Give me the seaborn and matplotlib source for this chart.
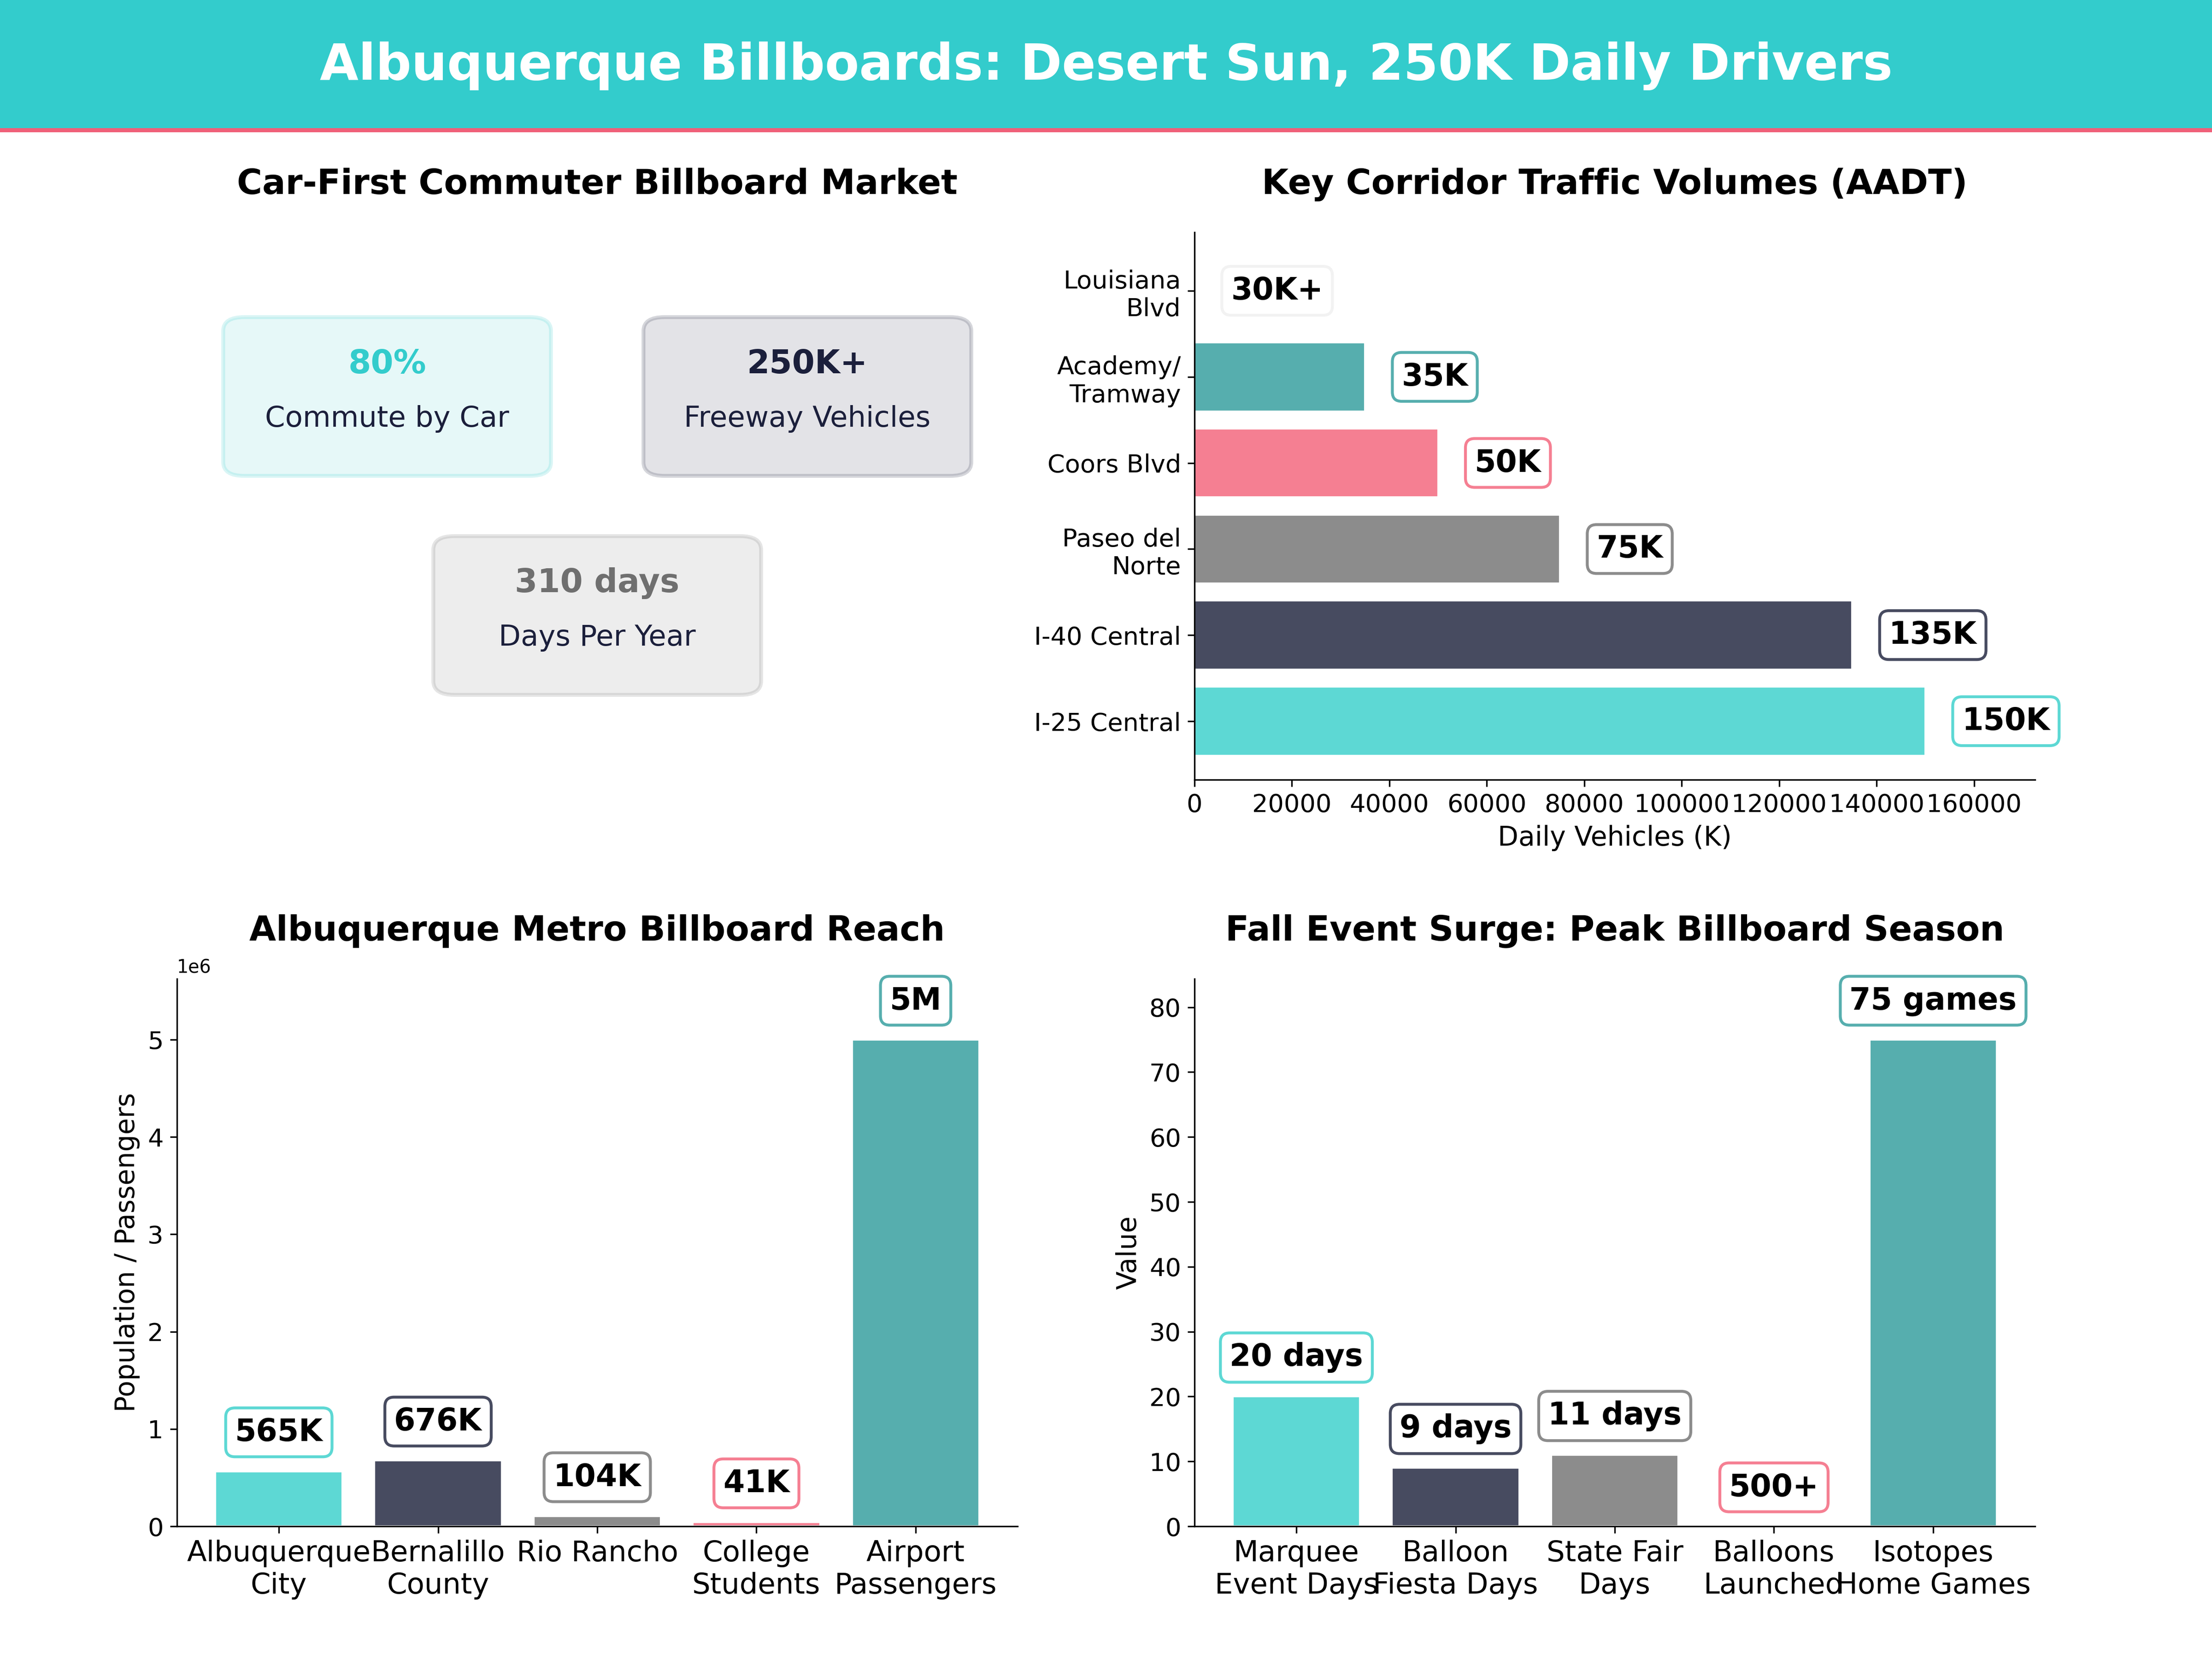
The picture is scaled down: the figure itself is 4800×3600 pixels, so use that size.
import matplotlib
matplotlib.use("Agg")
import matplotlib.pyplot as plt
import seaborn as sns
import pandas as pd
from matplotlib.patches import FancyBboxPatch, Rectangle

# ---------------- data ----------------
HEADER_TITLE = "Albuquerque Billboards: Desert Sun, 250K Daily Drivers"

kpi_values = ["80%", "250K+", "310 days"]
kpi_labels = ["Commute by Car", "Freeway Vehicles", "Days Per Year"]

corridors = ["I-25 Central", "I-40 Central", "Paseo del\nNorte", "Coors Blvd",
             "Academy/\nTramway", "Louisiana\nBlvd"]
corridor_aadt = [150000, 135000, 75000, 50000, 35000, 0]
corridor_labels = ["150K", "135K", "75K", "50K", "35K", "30K+"]

reach_cats = ["Albuquerque\nCity", "Bernalillo\nCounty", "Rio Rancho",
              "College\nStudents", "Airport\nPassengers"]
reach_vals = [565000, 676000, 104000, 41000, 5000000]
reach_labels = ["565K", "676K", "104K", "41K", "5M"]

event_cats = ["Marquee\nEvent Days", "Balloon\nFiesta Days", "State Fair\nDays",
              "Balloons\nLaunched", "Isotopes\nHome Games"]
event_vals = [20, 9, 11, 0, 75]
event_labels = ["20 days", "9 days", "11 days", "500+", "75 games"]

# ---------------- style ----------------
sns.set_style("white")
plt.rcParams.update({
    "font.family": ["DejaVu Sans"],
    "axes.edgecolor": "black",
    "axes.linewidth": 0.8,
    "text.color": "black",
    "axes.labelcolor": "black",
    "xtick.color": "black",
    "ytick.color": "black",
    "xtick.bottom": True,
    "ytick.left": True,
    "xtick.major.size": 3.5,
    "ytick.major.size": 3.5,
    "xtick.major.width": 0.8,
    "ytick.major.width": 0.8,
    "xtick.labelsize": 13,
    "ytick.labelsize": 13,
    "axes.labelsize": 14,
})

HEADER = "#33CCCC"
ACCENT = "#EF6079"
palette = ["#5DD8D4", "#474B60", "#8C8C8C", "#F57F92", "#56AEAE", "#F2F2F2"]
kpi_colors = ["#33CCCC", "#1B1F3B", "#6F6F6F"]
NAVY = "#1B1F3B"

fig = plt.figure(figsize=(16, 12), dpi=300)

# header band
fig.patches.append(Rectangle((0, 0.9228), 1, 0.0772, transform=fig.transFigure,
                             facecolor=HEADER, edgecolor="none", zorder=0))
fig.patches.append(Rectangle((0, 0.9203), 1, 0.0026, transform=fig.transFigure,
                             facecolor=ACCENT, edgecolor="none", zorder=0))
fig.text(0.5, 0.9519, HEADER_TITLE, ha="center", va="baseline", fontsize=26,
         fontweight="bold", color="white")

L1, L2, W = 0.080, 0.540, 0.380
B1, B2, H = 0.080, 0.530, 0.330
ax1 = fig.add_axes([L1, B2, W, H])
ax2 = fig.add_axes([L2, B2, W, H])
ax3 = fig.add_axes([L1, B1, W, H])
ax4 = fig.add_axes([L2, B1, W, H])

TITLE_KW = dict(fontsize=18, fontweight="bold", pad=20)

# ---------------- KPI cards ----------------
ax1.set_xlim(0, 1)
ax1.set_ylim(0, 1)
ax1.axis("off")
centers = [(0.25, 0.70), (0.75, 0.70), (0.50, 0.30)]
for (cx, cy), val, lab, col in zip(centers, kpi_values, kpi_labels, kpi_colors):
    rgb = matplotlib.colors.to_rgb(col)
    box = FancyBboxPatch((cx - 0.19, cy - 0.14), 0.38, 0.28,
                         boxstyle="round,pad=0.005,rounding_size=0.025",
                         facecolor=(*rgb, 0.12), edgecolor=(*rgb, 0.18),
                         linewidth=2, transform=ax1.transAxes)
    ax1.add_patch(box)
    ax1.text(cx, cy + 0.059, val, ha="center", va="center", fontsize=17,
             fontweight="bold", color=col)
    ax1.text(cx, cy - 0.041, lab, ha="center", va="center", fontsize=15,
             color=NAVY)
ax1.set_title("Car-First Commuter Billboard Market", **TITLE_KW)

# ---------------- corridor traffic (horizontal) ----------------
df2 = pd.DataFrame({"corridor": corridors, "aadt": corridor_aadt})
order2 = corridors[::-1]
sns.barplot(data=df2, x="aadt", y="corridor", hue="corridor",
            palette=dict(zip(corridors, palette)), order=order2,
            hue_order=corridors, orient="h", saturation=1, legend=False,
            width=0.8, ax=ax2)
mx2 = max(corridor_aadt)
lab_map2 = dict(zip(corridors, corridor_labels))
val_map2 = dict(zip(corridors, corridor_aadt))
col_map2 = dict(zip(corridors, palette))
for i, c in enumerate(order2):
    ax2.text(val_map2[c] + mx2 * 0.05, i, lab_map2[c], ha="left", va="center",
             fontsize=16, fontweight="bold",
             bbox=dict(boxstyle="round,pad=0.3", facecolor="white",
                       edgecolor=col_map2[c], linewidth=1.5))
ax2.set_xlim(0, mx2 * 1.15)
ax2.set_ylim(len(order2) - 1 + 0.68, -0.68)
ax2.set_xlabel("Daily Vehicles (K)")
ax2.set_ylabel("")
ax2.set_title("Key Corridor Traffic Volumes (AADT)", **TITLE_KW)

# ---------------- metro reach ----------------
df3 = pd.DataFrame({"cat": reach_cats, "val": reach_vals})
sns.barplot(data=df3, x="cat", y="val", hue="cat",
            palette=dict(zip(reach_cats, palette)), order=reach_cats,
            hue_order=reach_cats, saturation=1, legend=False, width=0.8, ax=ax3)
mx3 = max(reach_vals)
for i, (v, lab) in enumerate(zip(reach_vals, reach_labels)):
    ax3.text(i, v + mx3 * 0.08, lab, ha="center", va="center", fontsize=16,
             fontweight="bold",
             bbox=dict(boxstyle="round,pad=0.3", facecolor="white",
                       edgecolor=palette[i], linewidth=1.5))
ax3.set_xlim(-0.64, len(reach_cats) - 1 + 0.64)
ax3.set_ylim(0, mx3 * 1.125)
ax3.set_xlabel("")
ax3.set_ylabel("Population / Passengers")
ax3.tick_params(axis="x", labelsize=15)
ax3.yaxis.get_offset_text().set_fontsize(9.5)
ax3.set_title("Albuquerque Metro Billboard Reach", **TITLE_KW)

# ---------------- fall events ----------------
df4 = pd.DataFrame({"cat": event_cats, "val": event_vals})
sns.barplot(data=df4, x="cat", y="val", hue="cat",
            palette=dict(zip(event_cats, palette)), order=event_cats,
            hue_order=event_cats, saturation=1, legend=False, width=0.8, ax=ax4)
mx4 = max(event_vals)
for i, (v, lab) in enumerate(zip(event_vals, event_labels)):
    ax4.text(i, v + mx4 * 0.08, lab, ha="center", va="center", fontsize=16,
             fontweight="bold",
             bbox=dict(boxstyle="round,pad=0.3", facecolor="white",
                       edgecolor=palette[i], linewidth=1.5))
ax4.set_xlim(-0.64, len(event_cats) - 1 + 0.64)
ax4.set_ylim(0, mx4 * 1.125)
ax4.set_xlabel("")
ax4.set_ylabel("Value")
ax4.tick_params(axis="x", labelsize=15)
ax4.set_title("Fall Event Surge: Peak Billboard Season", **TITLE_KW)

for ax in (ax2, ax3, ax4):
    sns.despine(ax=ax)

fig.savefig("out.png", dpi=300)
